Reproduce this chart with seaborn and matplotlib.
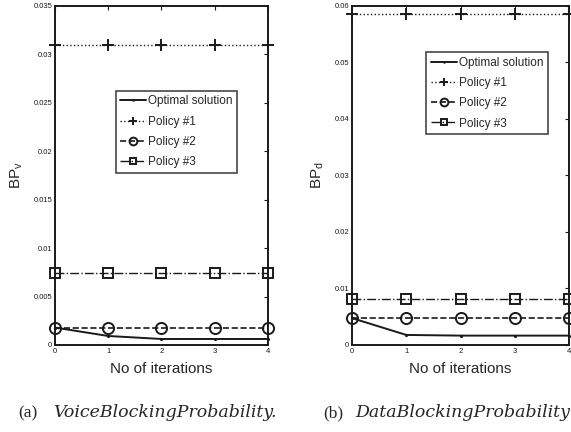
import matplotlib
matplotlib.use("Agg")
import matplotlib.pyplot as plt
import seaborn as sns
import pandas as pd

sns.set_theme(style="white")
plt.rcParams['font.family'] = ['Liberation Sans', 'DejaVu Sans']
plt.rcParams['mathtext.fontset'] = 'custom'
plt.rcParams['mathtext.rm'] = 'Liberation Sans'

iterations = [0, 1, 2, 3, 4]
series_names = ["Optimal solution", "Policy #1", "Policy #2", "Policy #3"]

# Voice blocking probability
voice_optimal = [0.0018, 0.00093, 0.00062, 0.00062, 0.00062]
voice_policy1 = [0.031, 0.031, 0.031, 0.031, 0.031]
voice_policy2 = [0.0018, 0.0018, 0.0018, 0.0018, 0.0018]
voice_policy3 = [0.0074, 0.0074, 0.0074, 0.0074, 0.0074]

# Data blocking probability
data_optimal = [0.00475, 0.00178, 0.00166, 0.00166, 0.00166]
data_policy1 = [0.0586, 0.0586, 0.0586, 0.0586, 0.0586]
data_policy2 = [0.00475, 0.00475, 0.00475, 0.00475, 0.00475]
data_policy3 = [0.0082, 0.0082, 0.0082, 0.0082, 0.0082]

voice_yticks = [0, 0.005, 0.01, 0.015, 0.02, 0.025, 0.03, 0.035]
voice_ylabels = ["0", "0.005", "0.01", "0.015", "0.02", "0.025", "0.03", "0.035"]
data_yticks = [0, 0.01, 0.02, 0.03, 0.04, 0.05, 0.06]
data_ylabels = ["0", "0.01", "0.02", "0.03", "0.04", "0.05", "0.06"]

styles = [
    dict(linestyle='-', marker='.', markersize=3, linewidth=1.4),
    dict(linestyle=':', marker='+', markersize=9, markeredgewidth=1.4, linewidth=1.0),
    dict(linestyle='--', marker='o', markersize=8, markerfacecolor='none', markeredgewidth=1.4, linewidth=1.2),
    dict(linestyle='-.', marker='s', markersize=7, markerfacecolor='none', markeredgewidth=1.4, linewidth=1.0),
]

fig = plt.figure(figsize=(5.71, 4.32), dpi=100)
ax_a = fig.add_axes([0.0963, 0.2014, 0.373, 0.785])
ax_b = fig.add_axes([0.6165, 0.2014, 0.380, 0.785])


def draw(ax, values, ylim, yticks, ylabels, ylabel, legend_anchor):
    for name, vals, st in zip(series_names, values, styles):
        df = pd.DataFrame({"iter": iterations, "bp": vals})
        sns.lineplot(data=df, x="iter", y="bp", ax=ax, color='k', label=name,
                     markeredgecolor='k', clip_on=False, zorder=3, **st)
    ax.set_xlim(0, 4)
    ax.set_ylim(*ylim)
    ax.set_xticks(iterations)
    ax.set_xticklabels([str(i) for i in iterations])
    ax.set_yticks(yticks)
    ax.set_yticklabels(ylabels)
    ax.tick_params(direction='in', length=3, width=0.8, labelsize=5.5,
                   top=True, right=True, pad=2, colors='k')
    for sp in ax.spines.values():
        sp.set_color('k')
        sp.set_linewidth(1.4)
        sp.set_visible(True)
    ax.set_xlabel("No of iterations", fontsize=11, labelpad=5)
    ax.set_ylabel(ylabel, fontsize=11, labelpad=6)
    leg = ax.legend(loc='upper right', bbox_to_anchor=legend_anchor,
                    fontsize=8.5, frameon=True, fancybox=False,
                    handlelength=2.2, handletextpad=0.15, borderpad=0.4,
                    labelspacing=0.7, borderaxespad=0, markerscale=0.7)
    leg.get_frame().set_edgecolor('k')
    leg.get_frame().set_linewidth(1.2)
    ax.grid(False)


draw(ax_a, [voice_optimal, voice_policy1, voice_policy2, voice_policy3],
     (0, 0.035), voice_yticks, voice_ylabels, r"BP$_{\mathregular{v}}$",
     (0.856, 0.75))
draw(ax_b, [data_optimal, data_policy1, data_policy2, data_policy3],
     (0, 0.06), data_yticks, data_ylabels, r"BP$_{\mathregular{d}}$",
     (0.903, 0.864))

# Sub-figure captions
cap_y = 0.044
fig.text(18 / 571, cap_y, "(a)", family='Liberation Serif', fontsize=12.5,
         ha='left', va='center')
fig.text(53 / 571, cap_y, "VoiceBlockingProbability.", family='DejaVu Serif',
         style='italic', fontsize=12.5, ha='left', va='center')
fig.text(323 / 571, cap_y, "(b)", family='Liberation Serif', fontsize=12.5,
         ha='left', va='center')
fig.text(355 / 571, cap_y, "DataBlockingProbability", family='DejaVu Serif',
         style='italic', fontsize=12.5, ha='left', va='center')

fig.savefig("out.png", dpi=100)
